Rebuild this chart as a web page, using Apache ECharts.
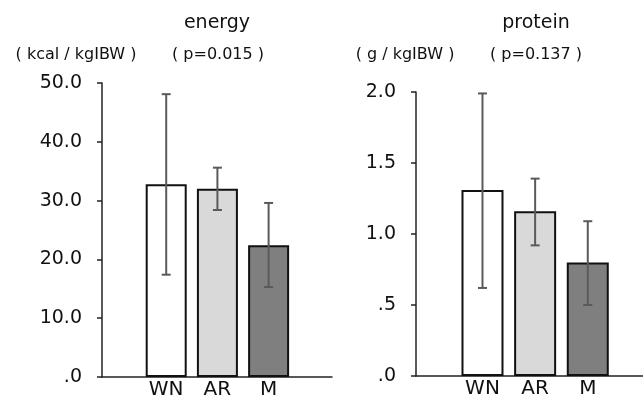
<!DOCTYPE html>
<html>
<head>
<meta charset="utf-8">
<script src="https://cdn.jsdelivr.net/npm/echarts@6/dist/echarts.min.js"></script>
<style>
  html, body { margin: 0; padding: 0; background: #fff; }
  #main { width: 643px; height: 400px; }
</style>
</head>
<body>
<div id="main"></div>
<script>
// groups and bar positions
var groups = ['WN', 'AR', 'M'];
var groupPos = [1, 2, 3];
var barColors = ['#ffffff', '#d9d9d9', '#7f7f7f'];

// energy (kcal / kgIBW)
var energyMean = [32.8, 32.0, 22.4];
var energyLow = [17.4, 28.4, 15.3];
var energyHigh = [48.1, 35.6, 29.6];
var energyTicks = [0, 10, 20, 30, 40, 50];

// protein (g / kgIBW)
var proteinMean = [1.31, 1.16, 0.80];
var proteinLow = [0.62, 0.92, 0.50];
var proteinHigh = [1.99, 1.39, 1.09];
var proteinTicks = [0, 0.5, 1.0, 1.5, 2.0];

var myChart = echarts.init(document.getElementById('main'));
var FONT = 'DejaVu Sans, sans-serif';

// .0 / .5 style labels
function fmt(v) {
	var s = v.toFixed(1);
	return s.charAt(0) === '0' ? s.slice(1) : s;
}

function barData(mean) {
	return groupPos.map(function (p, i) {
		return { value: [p, mean[i]], itemStyle: { color: barColors[i] } };
	});
}
function errData(low, high) {
	return groupPos.map(function (p, i) {
		return [p, low[i], high[i]];
	});
}

// whiskers with small caps
function renderErr(params, api) {
	var x = api.value(0);
	var lo = api.coord([x, api.value(1)]);
	var hi = api.coord([x, api.value(2)]);
	var cap = 4.5;
	var st = { stroke: '#5a5a5a', lineWidth: 2 };
	return {
		type: 'group',
		children: [
			{ type: 'line', shape: { x1: lo[0], y1: lo[1], x2: hi[0], y2: hi[1] }, style: st },
			{ type: 'line', shape: { x1: hi[0] - cap, y1: hi[1], x2: hi[0] + cap, y2: hi[1] }, style: st },
			{ type: 'line', shape: { x1: lo[0] - cap, y1: lo[1], x2: lo[0] + cap, y2: lo[1] }, style: st }
		]
	};
}

function xAxisOf(gridIndex, min, max) {
	return {
		type: 'value',
		gridIndex: gridIndex,
		min: min,
		max: max,
		splitLine: { show: false },
		axisLine: { onZero: false, lineStyle: { color: '#222', width: 1.5 } },
		axisTick: { show: false },
		axisLabel: {
			customValues: groupPos,
			formatter: function (v) { return groups[Math.round(v) - 1] || ''; },
			color: '#111',
			fontFamily: FONT,
			fontSize: 20,
			margin: 3
		}
	};
}
function yAxisOf(gridIndex, ticks) {
	return {
		type: 'value',
		gridIndex: gridIndex,
		min: ticks[0],
		max: ticks[ticks.length - 1],
		interval: ticks[1] - ticks[0],
		splitLine: { show: false },
		axisLine: { show: true, onZero: false, lineStyle: { color: '#222', width: 1.5 } },
		axisTick: { show: true, length: 5, lineStyle: { color: '#222', width: 1.5 } },
		axisLabel: { formatter: fmt, color: '#111', fontFamily: FONT, fontSize: 19, margin: 20 }
	};
}

function label(x, y, text, size) {
	return {
		type: 'text', x: x, y: y,
		style: { text: text, fill: '#111', font: size + 'px ' + FONT, align: 'center', verticalAlign: 'middle' }
	};
}

var option = {
	animation: false,
	grid: [
		{ left: 102, top: 83, width: 230, height: 296 },
		{ left: 416, top: 92, width: 227, height: 284 }
	],
	xAxis: [xAxisOf(0, -0.254, 4.238), xAxisOf(1, -0.263, 4.049)],
	yAxis: [yAxisOf(0, energyTicks), yAxisOf(1, proteinTicks)],
	graphic: [
		label(217, 23, 'energy', 19),
		label(76, 55, '( kcal / kgIBW )', 16),
		label(218, 55, '( p=0.015 )', 16),
		label(536, 23, 'protein', 19),
		label(405, 55, '( g / kgIBW )', 16),
		label(536, 55, '( p=0.137 )', 16)
	],
	series: [
		{
			type: 'bar', xAxisIndex: 0, yAxisIndex: 0, barWidth: 41,
			itemStyle: { borderColor: '#111', borderWidth: 2 },
			data: barData(energyMean)
		},
		{
			type: 'custom', xAxisIndex: 0, yAxisIndex: 0, z: 5,
			renderItem: renderErr,
			data: errData(energyLow, energyHigh)
		},
		{
			type: 'bar', xAxisIndex: 1, yAxisIndex: 1, barWidth: 42,
			itemStyle: { borderColor: '#111', borderWidth: 2 },
			data: barData(proteinMean)
		},
		{
			type: 'custom', xAxisIndex: 1, yAxisIndex: 1, z: 5,
			renderItem: renderErr,
			data: errData(proteinLow, proteinHigh)
		}
	]
};

myChart.setOption(option);
</script>
</body>
</html>
